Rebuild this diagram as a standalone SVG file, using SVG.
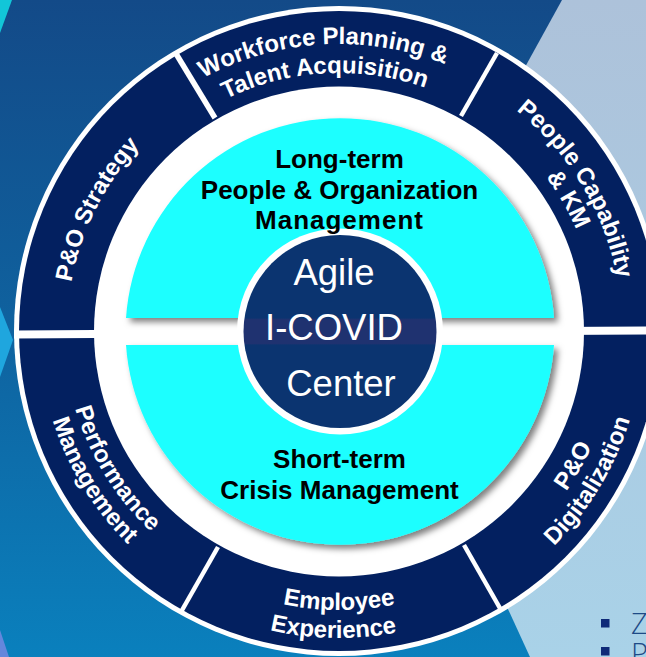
<svg xmlns="http://www.w3.org/2000/svg" width="646" height="657" viewBox="0 0 646 657">
<style>
.ring{fill:#032060}
.div{stroke:#fff;stroke-width:4.5;fill:none}
.lab{font-family:"Liberation Sans",Arial,sans-serif;font-weight:700;font-size:24px;fill:#fff;text-anchor:middle}
.blk{font-family:"Liberation Sans",Arial,sans-serif;font-weight:700;font-size:26px;fill:#000;text-anchor:middle}
.ctr{font-family:"Liberation Sans",Arial,sans-serif;font-size:36.5px;fill:#fff;text-anchor:middle}
.bul{fill:#0f2a78}
.bt{font-family:"Open Sans",sans-serif;font-weight:300;font-size:29px;fill:#1d4a86}
</style>
<defs>
<linearGradient id="bg" x1="0" y1="0" x2="0" y2="1"><stop offset="0" stop-color="#134a88"/><stop offset=".5" stop-color="#0f629f"/><stop offset="1" stop-color="#0a80bd"/></linearGradient>
<linearGradient id="lt" x1="0" y1="0" x2="0" y2="1"><stop offset="0" stop-color="#adc2da"/><stop offset="1" stop-color="#a9d2e8"/></linearGradient>
<linearGradient id="core" gradientUnits="userSpaceOnUse" x1="0" y1="318" x2="0" y2="345"><stop offset="0" stop-color="#0b3470"/><stop offset=".05" stop-color="#1f3270"/><stop offset=".95" stop-color="#1f3270"/><stop offset="1" stop-color="#0b3470"/></linearGradient>
<filter id="sh" x="-10%" y="-10%" width="125%" height="125%"><feDropShadow dx="4" dy="4" stdDeviation="3" flood-color="#000" flood-opacity=".5"/></filter>
<path id="cw258" d="M339 589A258 258 0 1 1 339 73A258 258 0 1 1 339 589"/>
<path id="cw272" d="M339 603A272 272 0 1 1 339 59A272 272 0 1 1 339 603"/>
<path id="cw283" d="M339 614A283 283 0 1 1 339 48A283 283 0 1 1 339 614"/>
<path id="cw287" d="M339 618A287 287 0 1 1 339 44A287 287 0 1 1 339 618"/>
<path id="ccw275" d="M339 56A275 275 0 1 0 339 606A275 275 0 1 0 339 56"/>
<path id="ccw278" d="M339 53A278 278 0 1 0 339 609A278 278 0 1 0 339 53"/>
<path id="ccw279" d="M339 52A279 279 0 1 0 339 610A279 279 0 1 0 339 52"/>
<path id="ccw300" d="M339 31A300 300 0 1 0 339 631A300 300 0 1 0 339 31"/>
<path id="ccw304" d="M339 27A304 304 0 1 0 339 635A304 304 0 1 0 339 27"/>
<path id="ccw307" d="M339 24A307 307 0 1 0 339 638A307 307 0 1 0 339 24"/>
</defs>
<rect width="646" height="657" fill="url(#bg)"/>
<path d="M562 0H646V657H530L380 330Z" fill="url(#lt)"/>
<path d="M0 0H12L0 33Z" fill="#12c6d8"/>
<path d="M0 307L13 340L0 377Z" fill="#1fa6de"/>
<path d="M0 630L9 657H0Z" fill="#6487dc"/>
<g id="bullets">
<rect class="bul" x="601" y="619" width="8.500" height="8.500"/>
<rect class="bul" x="601" y="647" width="8.500" height="8.500"/>
<text class="bt" x="631" y="634">Z</text>
<text class="bt" x="631" y="664">P</text>
</g>
<circle cx="339" cy="331" r="325" fill="#fff"/>
<circle class="ring" cx="339" cy="331" r="320"/>
<circle cx="339" cy="331.5" r="245" fill="#fff"/>
<g id="connectors">
<path class="div" style="stroke-width:5.500" d="M175 52L215 118"/>
<path class="div" d="M497 53L461 116"/>
<path class="div" d="M218 547L181 612"/>
<path class="div" d="M464 545L501 610"/>
<path d="M14 334.5L646 330.5" stroke="#fff" stroke-width="8" fill="none"/>
</g>
<g id="long-term">
<path d="M126 318A214.500 214.500 0 0 1 554 318Z" fill="#1effff" filter="url(#sh)"/>
</g>
<g id="short-term">
<path d="M126 345H554A214.500 214.500 0 0 1 126 345Z" fill="#1effff" filter="url(#sh)"/>
<text class="blk"><tspan x="339.500" y="468">Short-term</tspan><tspan x="339.500" y="498.500">Crisis Management</tspan></text>
</g>
<g id="center">
<circle cx="340" cy="331.5" r="103" fill="#fff"/>
<circle cx="340" cy="331.5" r="96.500" fill="url(#core)"/>
<text class="ctr" x="334" y="285">Agile</text>
<text class="ctr" x="334" y="340">I-COVID</text>
<text class="ctr" x="341" y="396">Center</text>
</g>
<text class="blk"><tspan x="339.500" y="168">Long-term</tspan><tspan x="339.500" y="198.500">People &amp; Organization</tspan><tspan x="339.500" y="229" letter-spacing="1">Management</tspan></text>
<g id="workforce">
<text class="lab"><textPath href="#cw287" startOffset="49.1%">Workforce Planning &amp;</textPath></text>
<text class="lab"><textPath href="#cw258" startOffset="49.1%">Talent Acquisition</textPath></text>
</g>
<g id="strategy"><text class="lab"><textPath href="#cw272" startOffset="32.4%">P&amp;O Strategy</textPath></text></g>
<g id="capability">
<text class="lab"><textPath href="#cw283" startOffset="66.4%">People Capability</textPath></text>
<text class="lab"><textPath href="#cw258" startOffset="66.7%">&amp; KM</textPath></text>
</g>
<g id="digitalization">
<text class="lab"><textPath href="#ccw278" startOffset="66.7%">P&amp;O</textPath></text>
<text class="lab"><textPath href="#ccw304" startOffset="66.4%">Digitalization</textPath></text>
</g>
<g id="experience">
<text class="lab"><textPath href="#ccw279" startOffset="50%">Employee</textPath></text>
<text class="lab"><textPath href="#ccw307" startOffset="49.7%">Experience</textPath></text>
</g>
<g id="performance">
<text class="lab"><textPath href="#ccw275" startOffset="33.8%">Performance</textPath></text>
<text class="lab"><textPath href="#ccw300" startOffset="33.7%">Management</textPath></text>
</g>
</svg>
